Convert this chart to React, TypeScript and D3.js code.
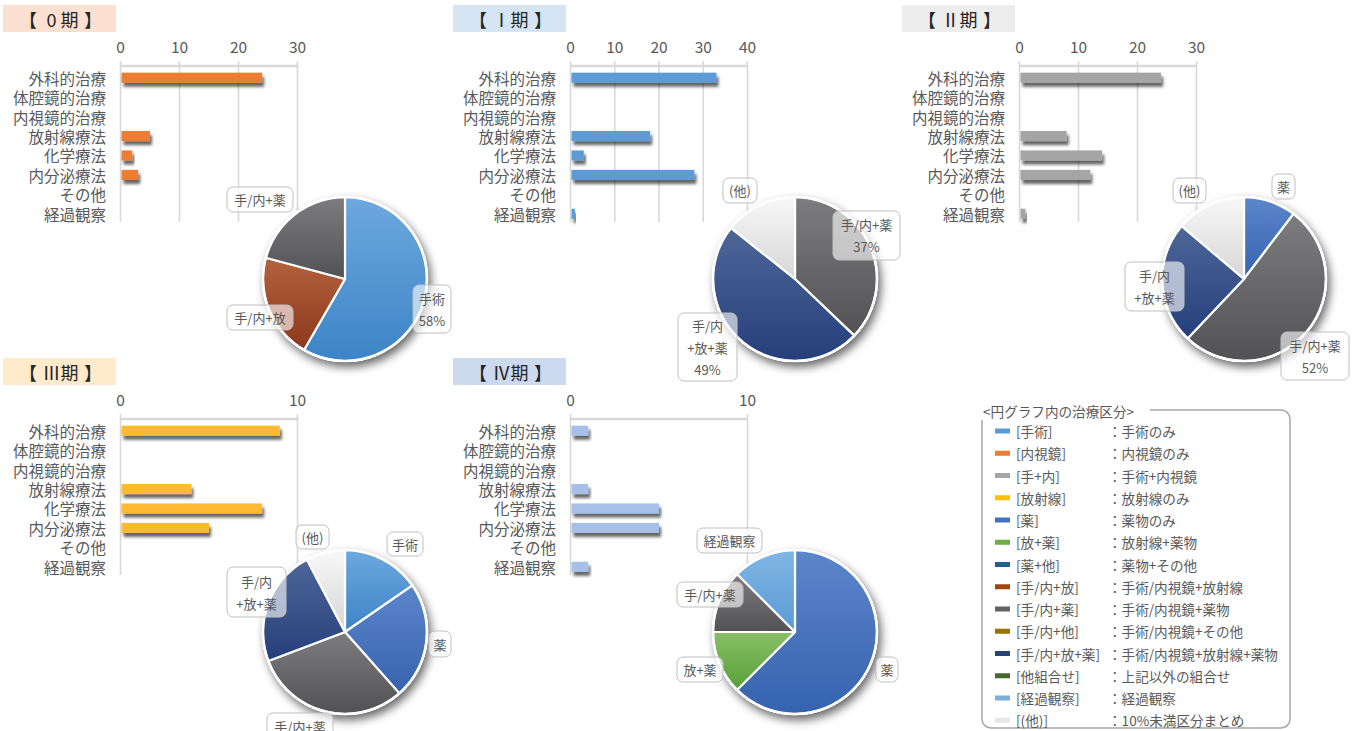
import React from 'react';
import * as d3 from 'd3';

// ---------- data ----------
const categories = ['外科的治療', '体腔鏡的治療', '内視鏡的治療', '放射線療法', '化学療法', '内分泌療法', 'その他', '経過観察'];

const stageNumerals = ['0', 'Ⅰ', 'Ⅱ', 'Ⅲ', 'Ⅳ'];

const stage0Bars = [24, 0, 0, 5, 2, 3, 0, 0];
const stage1Bars = [33, 0, 0, 18, 3, 28, 0, 1];
const stage2Bars = [24, 0, 0, 8, 14, 12, 0, 1];
const stage3Bars = [9, 0, 0, 4, 8, 5, 0, 0];
const stage4Bars = [1, 0, 0, 1, 5, 5, 0, 1];

const axisMax = [30, 40, 30, 10, 10];
const tickStep = 10;

const stage0PieKeys = ['手術', '手/内+放', '手/内+薬'];
const stage0PieValues = [14, 5, 5];
const stage0PiePct = [true, false, false];

const stage1PieKeys = ['手/内+薬', '手/内+放+薬', '(他)'];
const stage1PieValues = [13, 17, 5];
const stage1PiePct = [true, true, false];

const stage2PieKeys = ['薬', '手/内+薬', '手/内+放+薬', '(他)'];
const stage2PieValues = [3, 15, 7, 4];
const stage2PiePct = [false, true, false, false];

const stage3PieKeys = ['手術', '薬', '手/内+薬', '手/内+放+薬', '(他)'];
const stage3PieValues = [2, 3, 4, 3, 1];
const stage3PiePct = [false, false, false, false, false];

const stage4PieKeys = ['薬', '放+薬', '手/内+薬', '経過観察'];
const stage4PieValues = [5, 1, 1, 1];
const stage4PiePct = [false, false, false, false];

const legendTitle = '<円グラフ内の治療区分>';
const legendKeys = ['[手術]', '[内視鏡]', '[手+内]', '[放射線]', '[薬]', '[放+薬]', '[薬+他]', '[手/内+放]', '[手/内+薬]', '[手/内+他]', '[手/内+放+薬]', '[他組合せ]', '[経過観察]', '[(他)]'];
const legendDescs = ['手術のみ', '内視鏡のみ', '手術+内視鏡', '放射線のみ', '薬物のみ', '放射線+薬物', '薬物+その他', '手術/内視鏡+放射線', '手術/内視鏡+薬物', '手術/内視鏡+その他', '手術/内視鏡+放射線+薬物', '上記以外の組合せ', '経過観察', '10%未満区分まとめ'];

// ---------- styles / layout ----------
const legendColors = ['#5B9BD5', '#ED7D31', '#A5A5A5', '#FFC000', '#4472C4', '#70AD47', '#255E91', '#9E480E', '#636363', '#997300', '#264478', '#43682B', '#7CAFDD', '#E7E6E6'];

const sliceGradients: Record<string, [string, string]> = {
  '手術': ['#6DA8DE', '#3C84C6'],
  '薬': ['#5C86CB', '#3663AE'],
  '手/内+薬': ['#7D7D80', '#525254'],
  '手/内+放': ['#B3623C', '#8C381D'],
  '手/内+放+薬': ['#4E6698', '#263F7B'],
  '(他)': ['#F8F8F8', '#D6D6D6'],
  '放+薬': ['#88BF68', '#58A038'],
  '経過観察': ['#80B6E3', '#5A9AD5'],
};

const sliceLines: Record<string, string[]> = {
  '手/内+放+薬': ['手/内', '+放+薬'],
};

const titleFills = ['#FCE0D2', '#D5E5F3', '#EDEDED', '#FFEBCB', '#CDD9EF'];
const barColors = ['#ED7D31', '#5B9BD5', '#A5A5A5', '#FFB932', '#A6C0E7'];
const panelOrigins = [[0, 0], [450, 0], [899, 0], [0, 353], [450, 353]];

// label boxes relative to pie centre: [dx, dy, w, h] per slice
const labelLayouts = [
  [[68, 6, 38, 48], [-118, 26, 66, 25], [-118, -92, 66, 25]],
  [[38, -68, 67, 49], [-117, 34, 59, 68], [-72, -101, 34, 25]],
  [[28, -105, 23, 25], [37, 53, 68, 48], [-119, -17, 59, 49], [-71, -101, 33, 25]],
  [[42, -100, 36, 24], [84, -1, 22, 26], [-78, 81, 66, 26], [-118, -65, 59, 50], [-49, -107, 33, 24]],
  [[81, 25, 22, 25], [-118, 25, 46, 25], [-118, -50, 66, 25], [-98, -104, 65, 25]],
];

const allBars = [stage0Bars, stage1Bars, stage2Bars, stage3Bars, stage4Bars];
const allPieKeys = [stage0PieKeys, stage1PieKeys, stage2PieKeys, stage3PieKeys, stage4PieKeys];
const allPieValues = [stage0PieValues, stage1PieValues, stage2PieValues, stage3PieValues, stage4PieValues];
const allPiePct = [stage0PiePct, stage1PiePct, stage2PiePct, stage3PiePct, stage4PiePct];

const FONT = '"Noto Sans CJK JP", "Noto Sans", sans-serif';
const TXT = '#595959';
const GRID = '#D9D9D9';

const gradId = (k: string) => 'grad' + Object.keys(sliceGradients).indexOf(k);

function Panel({ idx }: { idx: number }) {
  const [ox, oy] = panelOrigins[idx];
  const bars = allBars[idx];
  const x = d3.scaleLinear().domain([0, axisMax[idx]]).range([120.5, 297.5]);
  const y = d3.scaleBand<string>().domain(categories).range([68, 223.5]).paddingInner(0.48).paddingOuter(0.24);
  const ticks = d3.range(0, axisMax[idx] + 0.001, tickStep);

  const keys = allPieKeys[idx];
  const vals = allPieValues[idx];
  const total = d3.sum(vals);
  const pie = d3.pie<number>().sort(null).value((d) => d)(vals);
  const R = 82;
  const arc = d3.arc<d3.PieArcDatum<number>>().innerRadius(0).outerRadius(R);
  const cx = 345, cy = 279;
  const pctFmt = d3.format('.0%');
  const tStyle = { fontSize: 18, fill: '#262626', fontFamily: FONT } as const;

  return (
    <g transform={`translate(${ox},${oy})`}>
      <rect x={3} y={5} width={113} height={27} fill={titleFills[idx]} />
      <text x={19} y={19} dominantBaseline="central" {...tStyle}>【</text>
      <text x={51.5} y={19} textAnchor="middle" dominantBaseline="central" {...tStyle}>{stageNumerals[idx]}</text>
      <text x={60.5} y={19} dominantBaseline="central" {...tStyle}>期</text>
      <text x={84} y={19} dominantBaseline="central" {...tStyle}>】</text>
      {/* axis ticks */}
      {ticks.map((t) => (
        <text key={'t' + t} x={x(t)} y={46} textAnchor="middle" dominantBaseline="central" fontSize={15.5} fill={TXT} fontFamily={FONT}>
          {t}
        </text>
      ))}
      {ticks.map((t) => (
        <line key={'g' + t} x1={x(t)} x2={x(t)} y1={61} y2={222} stroke={GRID} strokeWidth={1.6} />
      ))}
      <line x1={x(0)} x2={x(axisMax[idx])} y1={66} y2={66} stroke={GRID} strokeWidth={2.5} />
      {categories.map((c) => (
        <text key={c} x={106} y={(y(c) as number) + y.bandwidth() / 2} textAnchor="end" dominantBaseline="central" fontSize={15.5} fill={TXT} fontFamily={FONT}>
          {c}
        </text>
      ))}
      {categories.map((c, i) =>
        bars[i] > 0 ? (
          <rect key={'b' + c} x={x(0) + 1} y={y(c) as number} width={x(bars[i]) - x(0) - 1} height={y.bandwidth()} fill={barColors[idx]} filter="url(#barShadow)" />
        ) : null
      )}
      {/* pie */}
      <g transform={`translate(${cx},${cy})`}>
        <circle r={R + 1} fill="#fff" filter="url(#pieShadow)" />
        {pie.map((p, i) => (
          <path key={'s' + i} d={arc(p) as string} fill={`url(#${gradId(keys[i])})`} stroke="#fff" strokeWidth={2.2} strokeLinejoin="round" />
        ))}
        <circle r={R} fill="none" stroke="#fff" strokeWidth={2.5} />
        {pie.map((p, i) => {
          const [dx, dy, w, h] = labelLayouts[idx][i];
          const lines = [...(sliceLines[keys[i]] || [keys[i]])];
          if (allPiePct[idx][i]) lines.push(pctFmt(vals[i] / total));
          const mid = dy + h / 2;
          const lh = 22;
          return (
            <g key={'l' + i}>
              <rect x={dx} y={dy} width={w} height={h} rx={6} fill="rgba(255,255,255,0.62)" stroke="#BFBFBF" strokeWidth={1} />
              {lines.map((ln, j) => (
                <text key={j} x={dx + w / 2} y={mid + (j - (lines.length - 1) / 2) * lh} textAnchor="middle" dominantBaseline="central" fontSize={13} fill={TXT} fontFamily={FONT}>
                  {ln}
                </text>
              ))}
            </g>
          );
        })}
      </g>
    </g>
  );
}

function Legend() {
  const x0 = 982, y0 = 410, w = 308, h = 318;
  const rowY = d3.scaleLinear().domain([0, 1]).range([431, 453.25]);
  const fs = 13.6;
  return (
    <g>
      <rect x={x0} y={y0} width={w} height={h} rx={9} fill="none" stroke="#A6A6A6" strokeWidth={1.5} />
      <rect x={976} y={400} width={174} height={20} fill="#fff" />
      <text x={983} y={411} dominantBaseline="central" fontSize={fs} fill={TXT} fontFamily={FONT}>
        {legendTitle}
      </text>
      {legendKeys.map((k, i) => (
        <g key={k}>
          <rect x={995} y={rowY(i) - 2.5} width={15} height={5} fill={legendColors[i]} />
          <text x={1016} y={rowY(i)} dominantBaseline="central" fontSize={fs} fill={TXT} fontFamily={FONT}>
            {k}
          </text>
          <text x={1108} y={rowY(i)} dominantBaseline="central" fontSize={fs} fill={TXT} fontFamily={FONT}>
            {'：' + legendDescs[i]}
          </text>
        </g>
      ))}
    </g>
  );
}

export default function App() {
  return (
    <svg width={1357} height={731} style={{ position: 'absolute', left: 0, top: 0, background: '#fff' }}>
      <defs>
        <filter id="barShadow" x="-10%" y="-60%" width="130%" height="260%">
          <feDropShadow dx={2} dy={4} stdDeviation={1.8} floodColor="#000" floodOpacity={0.6} />
        </filter>
        <filter id="pieShadow" x="-30%" y="-30%" width="170%" height="170%">
          <feDropShadow dx={3} dy={5} stdDeviation={5} floodColor="#000" floodOpacity={0.6} />
        </filter>
        {Object.entries(sliceGradients).map(([k, [c1, c2]]) => (
          <linearGradient key={k} id={gradId(k)} x1="0" y1="0" x2="0" y2="1">
            <stop offset="0" stopColor={c1} />
            <stop offset="1" stopColor={c2} />
          </linearGradient>
        ))}
      </defs>
      {[0, 1, 2, 3, 4].map((i) => (
        <Panel key={i} idx={i} />
      ))}
      <Legend />
    </svg>
  );
}
